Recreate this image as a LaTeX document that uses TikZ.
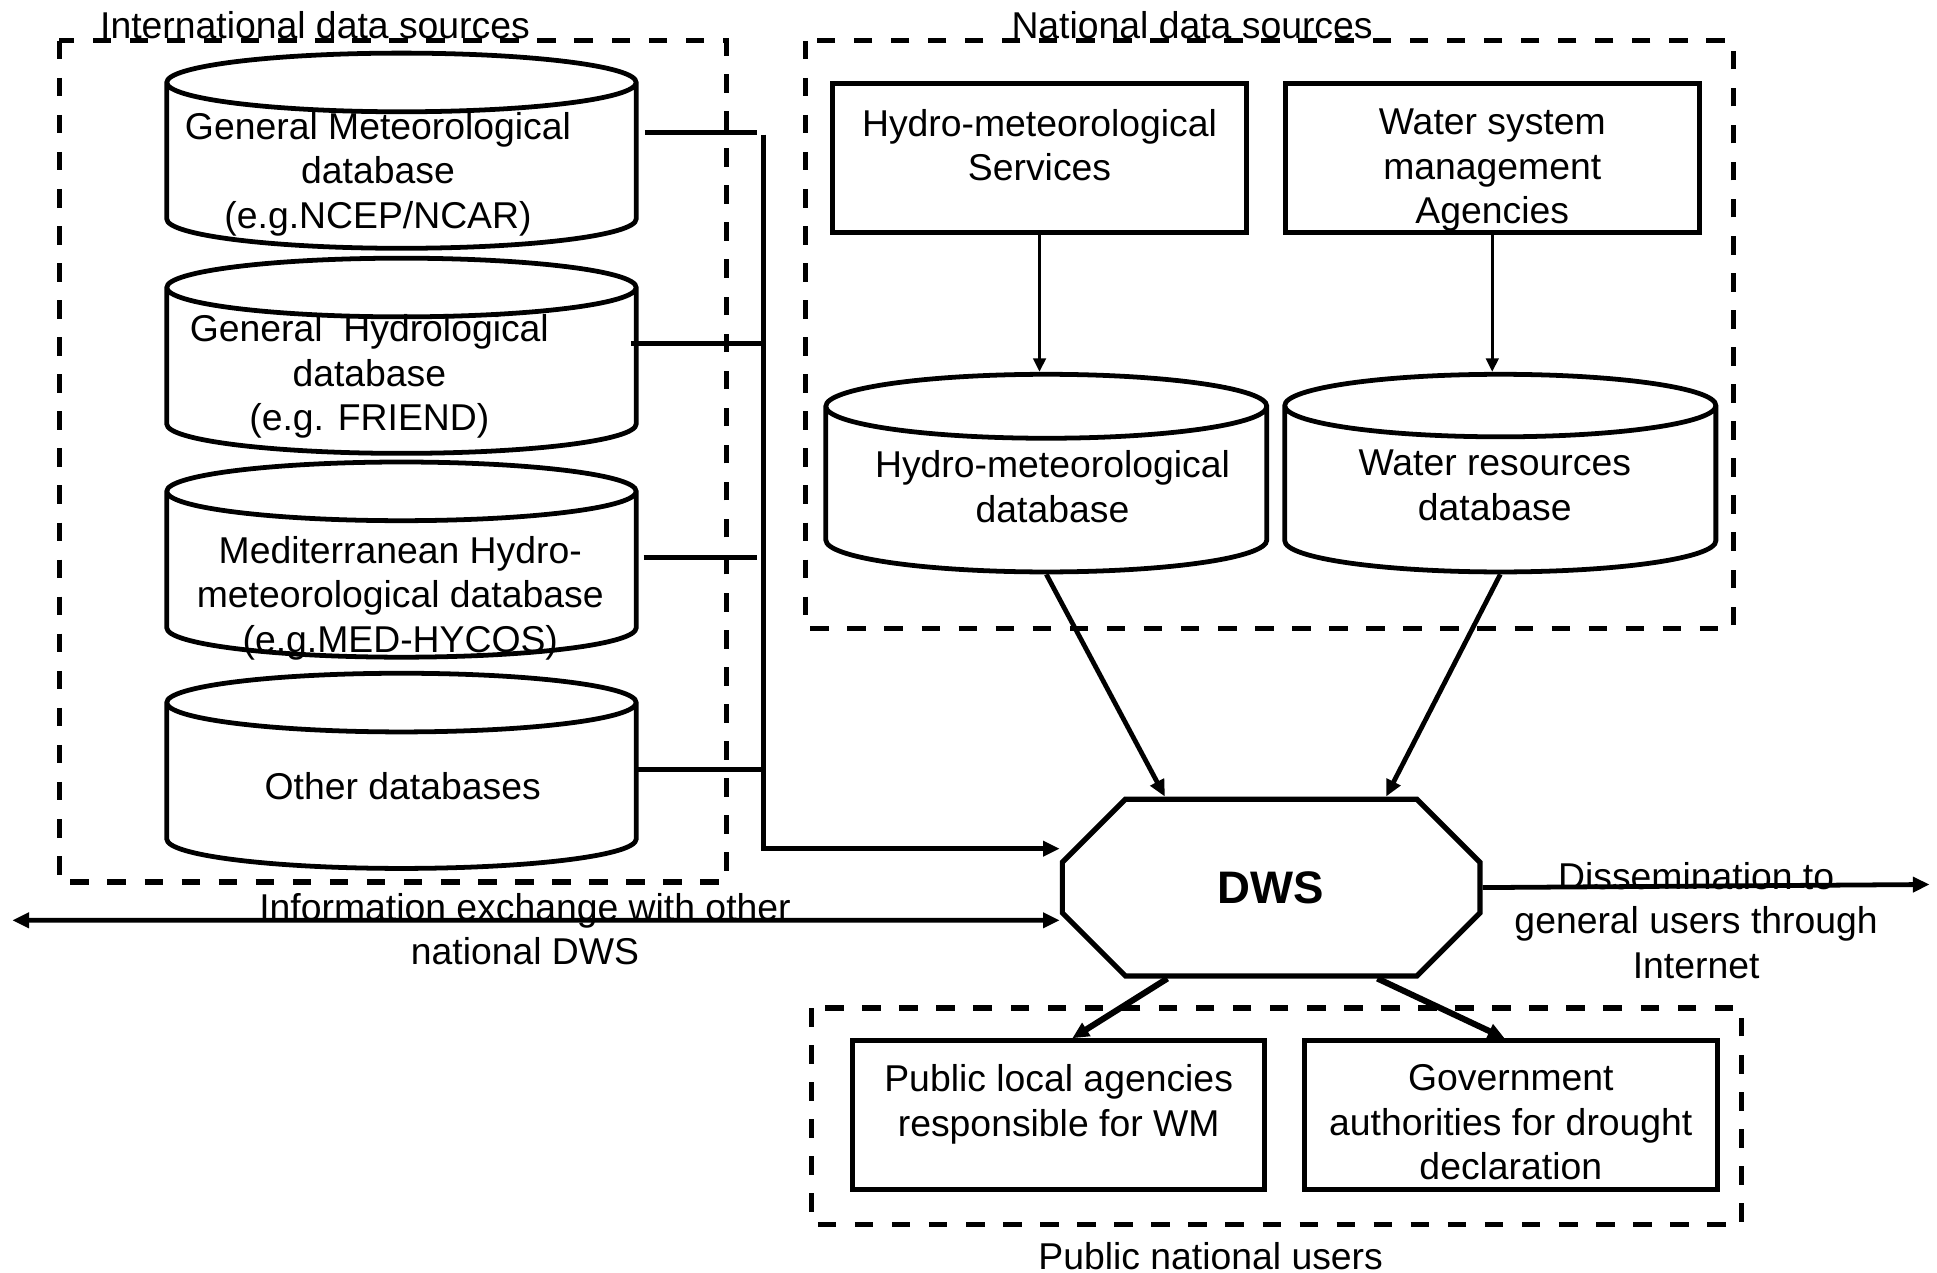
\documentclass[tikz,border=0pt]{standalone}
\usepackage{fontspec}
\setmainfont{Liberation Sans}
\usetikzlibrary{positioning, shapes.geometric, shapes.misc, arrows.meta}

\begin{document}
\begin{tikzpicture}[x=0.1mm, y=-0.1mm,
% node styles
every node/.style={font=\fontsize{8.6}{10.24}\selectfont},
db/.style={cylinder, shape border rotate=90, draw=black, line width=1.1pt, aspect=0.125, text width=38mm, minimum width=38mm, minimum height=15.8mm, inner sep=0pt, anchor=shape center},
box/.style={rectangle, draw=black, line width=1.15pt, minimum width=33.5mm, minimum height=12mm},
txt/.style={align=center},
dws/.style={chamfered rectangle, draw=black, line width=1.2pt, chamfered rectangle xsep=2.2mm, chamfered rectangle ysep=2.9mm, minimum width=33.8mm, minimum height=14.3mm, font=\fontsize{10.5}{12}\selectfont\bfseries},
group/.style={draw=black, line width=1.2pt, dash pattern=on 1.5mm off 1.5mm},
% line styles
link/.style={draw=black, line width=1.1pt},
arr/.style={link, -{Triangle[length=1.35mm, width=1.2mm]}},
thinarr/.style={draw=black, line width=0.8pt, -{Triangle[length=1.1mm, width=1mm]}},
biarr/.style={link, {Triangle[length=1.35mm, width=1.2mm]}-{Triangle[length=1.35mm, width=1.2mm]}}
]
\useasboundingbox (0,0) rectangle (1568,1030);

% dashed groups
\draw[group] (48,33) rectangle (588,714);
\draw[group] (652,33) rectangle (1403,509);
\draw[group] (657,816) rectangle (1410,991);
\node[anchor=base] (intl_lbl) at (255,31) {International data sources};
\node[anchor=base] (natl_lbl) at (965,31) {National data sources};
\node (pub_lbl) at (980,1017) {Public national users};

% international databases
\node[db] (gen_met) at (325,122) {};
\node[db] (gen_hyd) at (325,288) {};
\node[db] (med_db) at (325,453) {};
\node[db] (oth_db) at (325,624) {};
\node[txt] (gen_met_txt) at (306,141) {General Meteorological\\database\\(e.g.NCEP/NCAR)};
\node[txt] (gen_hyd_txt) at (299,305) {General\ \ Hydrological\\database\\(e.g. FRIEND)};
\node[txt] (med_db_txt) at (324,484) {Mediterranean Hydro-\\meteorological database\\(e.g.MED-HYCOS)};
\node[txt] (oth_db_txt) at (326,636) {Other databases};

% national sources
\node[box] (hm_serv) at (841.5,128) {};
\node[box] (ws_agency) at (1208,128) {};
\node[txt, below=1mm of hm_serv.north] (hm_serv_txt) {Hydro-meteorological\\Services};
\node[txt, below=1mm of ws_agency.north] (ws_agency_txt) {Water system\\management\\Agencies};
\node[db, aspect=0.145, text width=35.7mm, minimum width=35.7mm, minimum height=16mm] (hm_db) at (847,383) {};
\node[db, aspect=0.145, text width=34.9mm, minimum width=34.9mm, minimum height=16mm] (wr_db) at (1214.5,383) {};
\node[txt] (hm_db_txt) at (852,394) {Hydro-meteorological\\database};
\node[txt] (wr_db_txt) at (1210,393) {Water resources\\database};

% central system
\node[dws] (dws) at (1029,718.5) {DWS};

% public users
\node[box, minimum width=33.4mm] (pub_loc) at (857,902.5) {};
\node[box, minimum width=33.4mm] (gov_auth) at (1223,902.5) {};
\node[txt, below=0.9mm of pub_loc.north] (pub_loc_txt) {Public local agencies\\responsible for WM};
\node[txt, below=0.9mm of gov_auth.north] (gov_auth_txt) {Government\\authorities for drought\\declaration};

% free ends
\coordinate (bus_top) at (618,109);
\coordinate (ext_end) at (10,745);
\coordinate (diss_end) at (1562,716);

% links to the bus
\draw[link] ([shift={(197,-15)}]gen_met.shape center) -- ++(91,0);
\draw[link] ([shift={(186,-10)}]gen_hyd.shape center) -- ++(107,0);
\draw[link] ([shift={(196,-2)}]med_db.shape center) -- ++(92,0);
\draw[link] ([shift={(190,-1)}]oth_db.shape center) -- ++(103,0);
\draw[arr] (bus_top) |- ([shift={(0,-31.5)}]dws.west);

% national flows
\draw[thinarr] (hm_serv.south) -- (hm_serv.south |- hm_db.north);
\draw[thinarr] (ws_agency.south) -- (ws_agency.south |- wr_db.north);
\draw[arr] (hm_db.south) -- ([shift={(-86,0)}]dws.north);
\draw[arr] (wr_db.south) -- ([shift={(93,0)}]dws.north);

% exchange and dissemination
\draw[biarr] (ext_end) -- ([shift={(0,26.5)}]dws.west);
\draw[arr] (dws.east) -- (diss_end);
\node[txt] (xchg_lbl) at (425,752) {Information exchange with other\\national DWS};
\node[txt] (diss_lbl) at (1373,745) {Dissemination to\\general users through\\Internet};

% to public users
\draw[arr, line width=1.4pt] ([shift={(-84,0)}]dws.south) -- ([shift={(11,0)}]pub_loc.north);
\draw[arr, line width=1.4pt] ([shift={(86,0)}]dws.south) -- ([shift={(-5,0)}]gov_auth.north);

\end{tikzpicture}
\end{document}
